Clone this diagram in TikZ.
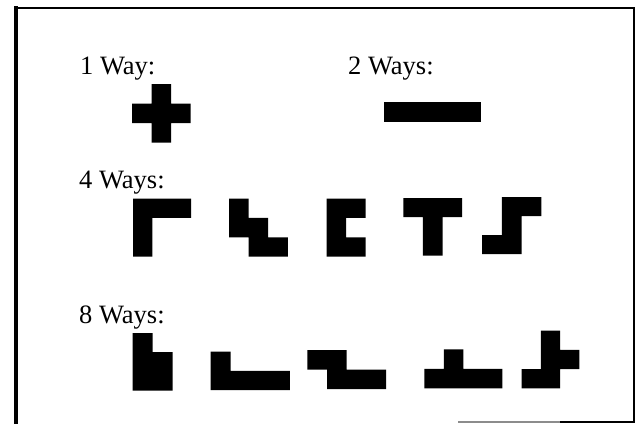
\documentclass[tikz,border=0pt]{standalone}
\usepackage{fontspec}
\setmainfont{Liberation Serif}
\tikzset{
  piece/.style={fill=black},
  lbl/.style={anchor=base west, inner sep=0pt, font=\fontsize{26.5bp}{31bp}\selectfont},
  frameline/.style={line width=2.5bp, line cap=rect},
}
\begin{document}
\begin{tikzpicture}[x=1bp,y=-1bp]
\useasboundingbox (0,0) rectangle (637,423);
% frame
\coordinate (tl) at (16,8);
\coordinate (tr) at (634,8);
\coordinate (bl) at (16,423);
\coordinate (br) at (634,422);
\coordinate (bm) at (458,422);
\coordinate (bk) at (560,422);
\draw[frameline, line width=4bp] (bl) -- (tl);
\draw[frameline] (tl) -- (tr);
\draw[frameline, line width=2bp] (tr) -- (br);
\draw[line width=2bp, black!45] (bm) -- (bk);
\draw[line width=2bp] (bk) -- (br);
% labels
\node[lbl] (one)   at (80,74)  {1 Way:};
\node[lbl] (two)   at (348,74) {2 Ways:};
\node[lbl] (four)  at (79,188) {4 Ways:};
\node[lbl] (eight) at (79,323) {8 Ways:};
% 1 way: X pentomino
\begin{scope}[shift={(132,84)}, x=19.5bp, y=-19.5bp]
\fill[piece] (1,0)--(2,0)--(2,1)--(3,1)--(3,2)--(2,2)--(2,3)--(1,3)--(1,2)--(0,2)--(0,1)--(1,1)--cycle;
\end{scope}
% 2 ways: I pentomino
\begin{scope}[shift={(383.5,102)}, x=19.5bp, y=-19.5bp]
\fill[piece] (0,0) rectangle (5,1);
\end{scope}
% 4 ways
\begin{scope}[shift={(133,198.5)}, x=19.4bp, y=-19.4bp]
\fill[piece] (0,0)--(3,0)--(3,1)--(1,1)--(1,3)--(0,3)--cycle;
\end{scope}
\begin{scope}[shift={(229,198.5)}, x=19.6bp, y=-19.4bp]
\fill[piece] (0,0)--(1,0)--(1,1)--(2,1)--(2,2)--(3,2)--(3,3)--(1,3)--(1,2)--(0,2)--cycle;
\end{scope}
\begin{scope}[shift={(326.7,198.5)}, x=19.5bp, y=-19.4bp]
\fill[piece] (0,0)--(2,0)--(2,1)--(1,1)--(1,2)--(2,2)--(2,3)--(0,3)--cycle;
\end{scope}
\begin{scope}[shift={(403.3,198)}, x=19.6bp, y=-19.2bp]
\fill[piece] (0,0)--(3,0)--(3,1)--(2,1)--(2,3)--(1,3)--(1,1)--(0,1)--cycle;
\end{scope}
\begin{scope}[shift={(482,197)}, x=19.8bp, y=-19bp]
\fill[piece] (1,0)--(3,0)--(3,1)--(2,1)--(2,3)--(0,3)--(0,2)--(1,2)--cycle;
\end{scope}
% 8 ways
\begin{scope}[shift={(132.7,333)}, x=20bp, y=-19.2bp]
\fill[piece] (0,0)--(1,0)--(1,1)--(2,1)--(2,3)--(0,3)--cycle;
\end{scope}
\begin{scope}[shift={(210.7,351.5)}, x=19.8bp, y=-19.3bp]
\fill[piece] (0,0)--(1,0)--(1,1)--(4,1)--(4,2)--(0,2)--cycle;
\end{scope}
\begin{scope}[shift={(307.3,350)}, x=19.7bp, y=-19.6bp]
\fill[piece] (0,0)--(2,0)--(2,1)--(4,1)--(4,2)--(1,2)--(1,1)--(0,1)--cycle;
\end{scope}
\begin{scope}[shift={(424.3,349.3)}, x=19.5bp, y=-19.5bp]
\fill[piece] (1,0)--(2,0)--(2,1)--(4,1)--(4,2)--(0,2)--(0,1)--(1,1)--cycle;
\end{scope}
\begin{scope}[shift={(521.7,330.7)}, x=19.2bp, y=-19.2bp]
\fill[piece] (1,0)--(2,0)--(2,1)--(3,1)--(3,2)--(2,2)--(2,3)--(0,3)--(0,2)--(1,2)--cycle;
\end{scope}
\end{tikzpicture}
\end{document}
